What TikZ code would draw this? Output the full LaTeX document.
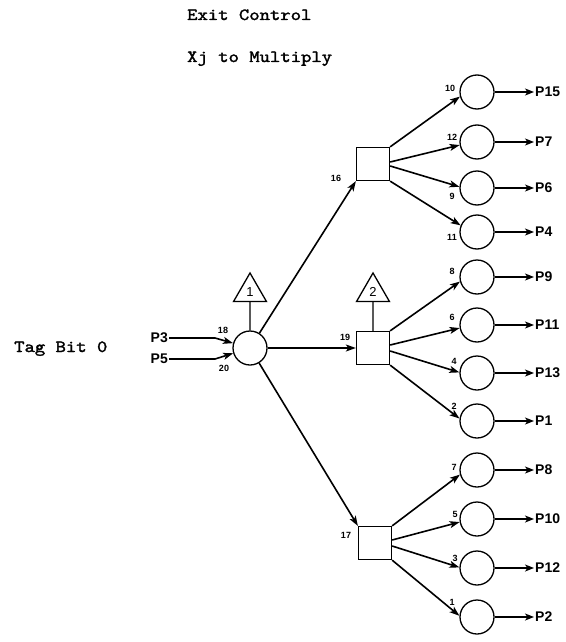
\documentclass[tikz,border=0pt]{standalone}
\usepackage{fontspec}
\setmainfont{Liberation Sans}
\newfontfamily\twfont[FakeBold=1.8,FakeStretch=1.16]{lmmono10-regular.otf}
\usetikzlibrary{arrows.meta,shapes.geometric}
\begin{document}
\begin{tikzpicture}[x=1pt,y=-1pt,
  every node/.style={inner sep=0pt},
  ring/.style={draw, circle, minimum size=34pt, line width=1.3pt},
  box/.style={draw, rectangle, minimum size=33pt, line width=1.3pt},
  tri/.style={draw, regular polygon, regular polygon sides=3, minimum size=38pt, line width=1.3pt, font=\fontsize{13}{13}\selectfont},
  arr/.style={line width=1.6pt, -{Stealth[length=10pt,width=7pt,inset=2.5pt]}},
  oarr/.style={line width=1.2pt, -{Stealth[length=9pt,width=7pt,inset=2.5pt]}},
  lbl/.style={font=\bfseries\fontsize{9}{9}\selectfont},
  plbl/.style={font=\bfseries\fontsize{14}{14}\selectfont, anchor=west, inner sep=1pt},
  ttl/.style={font=\twfont\fontsize{17}{17}\selectfont, anchor=base west}]
\useasboundingbox (0,0) rectangle (565,642);

% titles
\node[ttl] (exit) at (187,20) {Exit Control};
\node[ttl] (xj) at (187,62) {Xj to Multiply};
\node[ttl] (tag) at (14,352) {Tag Bit 0};

% centre
\node[ring] (c) at (250,348) {};
\node[tri] (t1) at (250,292) {1};
\draw[line width=1.3pt] (t1) -- (c);

% inputs
\node[plbl, anchor=east] (p3) at (169,338) {P3};
\node[plbl, anchor=east] (p5) at (169,359) {P5};
\draw[arr] (p3.east) -- ++(46,0) -- (c);
\draw[arr] (p5.east) -- ++(46,0) -- (c);
\node[lbl] (l18) at (223,330) {18};
\node[lbl] (l20) at (224,368) {20};

% squares
\node[box] (s1) at (373,164) {};
\node[box] (s2) at (373,348) {};
\node[box] (s3) at (375,543) {};
\node[tri] (t2) at (373,292) {2};
\draw[line width=1.3pt] (t2) -- (s2);
\draw[arr] (c) -- (s1.south west);
\draw[arr] (c) -- (s2);
\draw[arr] (c) -- (s3.north west);
\node[lbl] (l16) at (336,178) {16};
\node[lbl] (l19) at (345,337) {19};
\node[lbl] (l17) at (346,535) {17};

% output circles
\foreach \n/\y/\p/\k/\lx/\ly in {
  o1/92/P15/10/450/88, o2/142/P7/12/452/137, o3/188/P6/9/452/196, o4/232/P4/11/452/237,
  o5/277/P9/8/452/271, o6/325/P11/6/452/317, o7/373/P13/4/454/361, o8/421/P1/2/454/406,
  o9/470/P8/7/454/467, o10/519/P10/5/455/514, o11/568/P12/3/455/558, o12/617/P2/1/452/602}{
  \node[ring] (\n) at (477,\y) {};
  \node[plbl] (\n t) at (534,\y) {\p};
  \node[lbl] (\n k) at (\lx,\ly) {\k};
  \draw[oarr] (\n) -- (\n t);
}

% fan-outs
\draw[arr] (s1.north east) -- (o1.195);
\draw[arr] ([yshift=2pt]s1.east) -- (o2.190);
\draw[arr] ([yshift=-2pt]s1.east) -- (o3.176);
\draw[arr] (s1.south east) -- (o4.158);
\draw[arr] (s2.north east) -- (o5.195);
\draw[arr] ([yshift=3pt]s2.east) -- (o6.190);
\draw[arr] ([yshift=-3pt]s2.east) -- (o7.178);
\draw[arr] (s2.south east) -- (o8.172);
\draw[arr] (s3.north east) -- (o9.195);
\draw[arr] ([yshift=3pt]s3.east) -- (o10.190);
\draw[arr] ([yshift=-3pt]s3.east) -- (o11.178);
\draw[arr] (s3.south east) -- (o12.176);
\end{tikzpicture}
\end{document}
